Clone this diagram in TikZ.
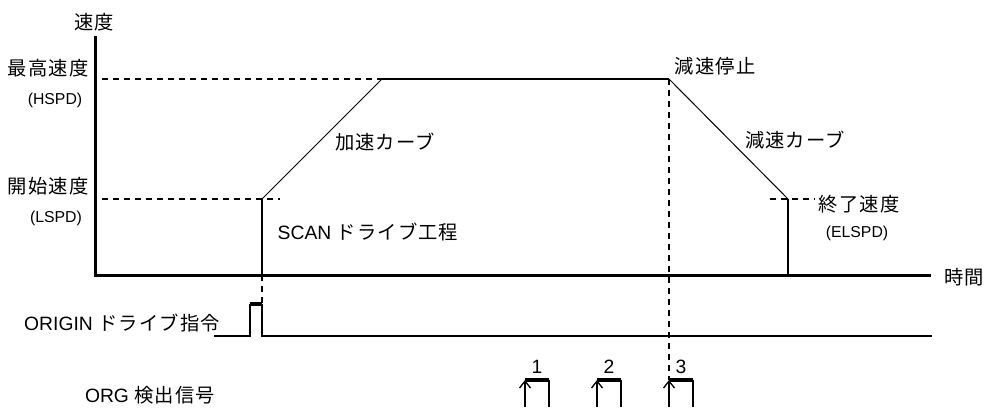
\documentclass[tikz,border=0pt]{standalone}
\usepackage{fontspec}
\setmainfont{Liberation Sans}
\newfontfamily\jpfont{Noto Sans CJK JP}[LetterSpace=6]
\usetikzlibrary{arrows.meta}
\newcommand{\J}[1]{{\jpfont #1}}
\begin{document}
\begin{tikzpicture}[x=1pt,y=-1pt,
  lbl/.style={inner sep=0pt,font=\fontsize{19.3}{21}\selectfont},
  sub/.style={inner sep=0pt,font=\fontsize{15.8}{17}\selectfont},
  axis/.style={line width=3pt},
  prof/.style={line width=2pt},
  thin/.style={line width=1pt},
  dashln/.style={line width=2pt,dash pattern=on 6pt off 5pt},
  sig/.style={line width=2pt},
  sigtop/.style={line width=4pt},
  arr/.style={line width=1.6pt,-{Straight Barb[length=7pt,width=11pt,line width=1.3pt]}}]
\useasboundingbox (0,0) rectangle (987,407);
% coordinates
\coordinate (ytop) at (95,36);
\coordinate (O) at (95,275);
\coordinate (xend) at (931,275);
\coordinate (S0) at (262,275);
\coordinate (S1) at (262,199);
\coordinate (H1) at (382,79);
\coordinate (H2) at (669,79);
\coordinate (E1) at (788,199);
\coordinate (E0) at (788,275);
\coordinate (hd0) at (102,79);
\coordinate (ld0) at (102,199);
\coordinate (ld1) at (280,199);
\coordinate (ed0) at (770,199);
\coordinate (ed1) at (815,199);
\coordinate (v1b) at (262,304);
\coordinate (v2b) at (669,380);
% ORIGIN signal
\coordinate (g0) at (214,336);
\coordinate (g1) at (250,336);
\coordinate (g2) at (250,304);
\coordinate (g3) at (262,304);
\coordinate (g4) at (262,336);
\coordinate (g5) at (932,336);
% axes
\draw[axis] (ytop) -- (O) -- (xend);
% dashed guides
\draw[dashln] (hd0) -- (H1);
\draw[dashln] (ld0) -- (ld1);
\draw[dashln] (ed0) -- (ed1);
\draw[dashln] (S0) -- (v1b);
\draw[dashln] (H2) -- (v2b);
% profile
\draw[prof] (S0) -- (S1);
\draw[thin] (S1) -- (H1);
\draw[prof] (H1) -- (H2);
\draw[thin] (H2) -- (E1);
\draw[prof] (E1) -- (E0);
% ORIGIN drive command
\draw[sig] (g0) -- (g1) -- (g2);
\draw[sigtop] (g2) -- (g3);
\draw[sig] (g3) -- (g4) -- (g5);
% ORG pulses
\foreach \n/\xl in {1/525,2/597,3/669}{
  \coordinate (p\n a) at (\xl,407);
  \coordinate (p\n b) at (\xl,380);
  \coordinate (p\n c) at (\xl+24,380);
  \coordinate (p\n d) at (\xl+24,407);
  \draw[arr] (p\n a) -- (p\n b);
  \draw[sigtop] (p\n b) -- (p\n c);
  \draw[sig] (p\n c) -- (p\n d);
  \node[lbl] (n\n) at (\xl+12,367) {\n};
}
% labels
\node[lbl] (tv) at (94,22) {\J{速度}};
\node[lbl] (thspd) at (48,68) {\J{最高速度}};
\node[sub] (thspd2) at (55,100) {(HSPD)};
\node[lbl] (tlspd) at (48,186) {\J{開始速度}};
\node[sub] (tlspd2) at (56,218) {(LSPD)};
\node[lbl] (tscan) at (368,232) {SCAN \J{ドライブ工程}};
\node[lbl] (tacc) at (385,142) {\J{加速カーブ}};
\node[lbl] (tstop) at (715,66) {\J{減速停止}};
\node[lbl] (tdec) at (795,140) {\J{減速カーブ}};
\node[lbl] (tend) at (859,204) {\J{終了速度}};
\node[sub] (tend2) at (857,233) {(ELSPD)};
\node[lbl] (ttime) at (964,277) {\J{時間}};
\node[lbl] (torg) at (122,323) {ORIGIN \J{ドライブ指令}};
\node[lbl] (tdet) at (150,395) {ORG \J{検出信号}};
\end{tikzpicture}
\end{document}
